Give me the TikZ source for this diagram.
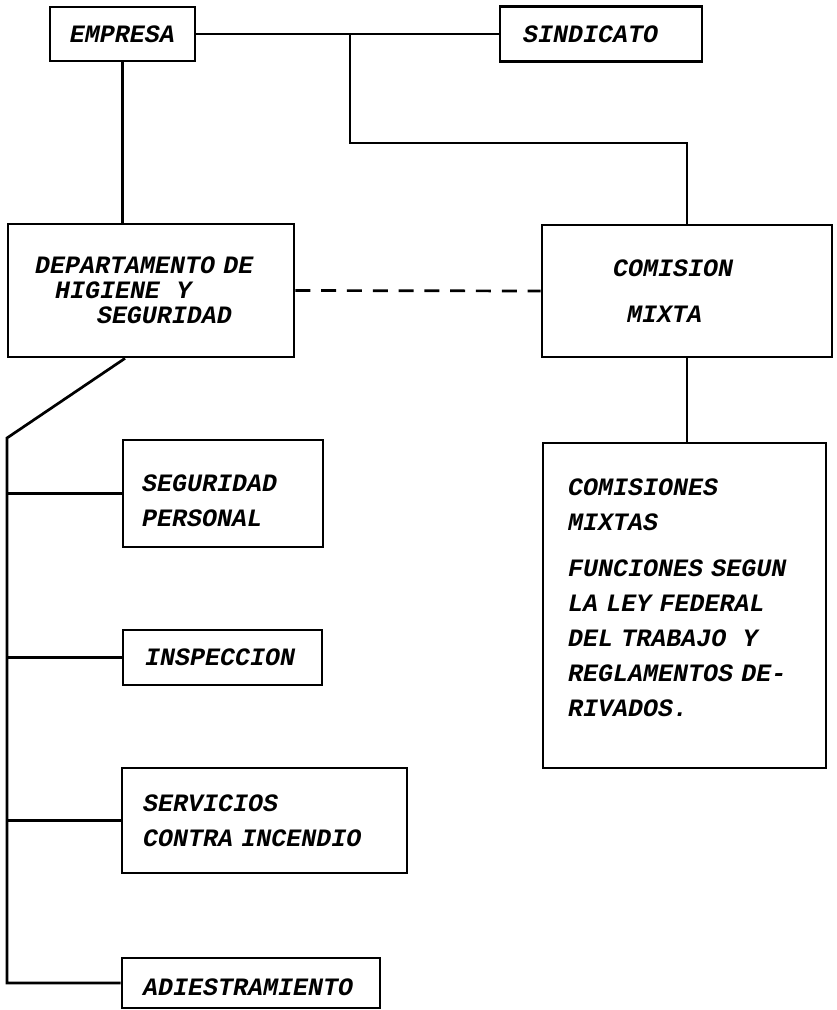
\documentclass[tikz,border=0pt]{standalone}
\usepackage{fontspec}
\newfontfamily\tw{Liberation Mono}
\newcommand\twf[1]{\tw\bfseries\itshape\fontsize{25}{#1}\selectfont}
\begin{document}
\begin{tikzpicture}[x=1pt,y=-1pt,line width=2.7pt,
  box/.style={draw,rectangle,inner ysep=0pt,font=\twf{35}},
  dashline/.style={dash pattern=on 15pt off 10.8pt}]
\useasboundingbox (0,0) rectangle (837,1010);
% boxes
\node[box,minimum width=145pt,minimum height=54pt,inner xsep=0pt] (empresa) at (122.5,34) {EMPRESA};
\node[box,minimum height=55pt,text width=156pt,inner xsep=23pt,align=left] (sindicato) at (601,34) {SINDICATO};
\node[box,minimum height=133pt,text width=232pt,inner xsep=27pt,align=left,font=\twf{25}] (dept) at (151,290.5)
  {DEPARTAMENTO DE\\\hspace*{20pt}HIGIENE\ \ Y\\\hspace*{62pt}SEGURIDAD};
\node[box,minimum height=132pt,text width=148pt,inner xsep=71pt,align=left,font=\twf{46}] (comision) at (687,291)
  {COMISION\\\hspace*{14pt}MIXTA};
\node[box,minimum height=325pt,text width=233pt,inner xsep=25pt,align=left] (comisiones) at (684.5,605.5)
  {COMISIONES\\MIXTAS\\[11pt]FUNCIONES SEGUN\\LA LEY FEDERAL\\DEL TRABAJO\ \ Y\\REGLAMENTOS DE-\\RIVADOS.\par\vspace{16pt}\hrule height 0pt};
\node[box,minimum height=107pt,text width=162pt,inner xsep=19pt,align=left] (seg) at (223,493.5)
  {\hrule height 0pt\vspace{14pt}SEGURIDAD\\PERSONAL};
\node[box,minimum height=55pt,text width=155pt,inner xsep=22pt,align=left] (insp) at (222.5,657.5) {INSPECCION};
\node[box,minimum height=105pt,text width=243pt,inner xsep=21pt,align=left] (serv) at (264.5,820.5) {SERVICIOS\\CONTRA INCENDIO};
\node[box,minimum height=50pt,text width=216pt,inner xsep=21pt,align=left] (adiest) at (251,983)
  {\hrule height 0pt\vspace{8pt}ADIESTRAMIENTO};
% connectors
\coordinate (j) at (350,34);
\coordinate (jb) at (350,143);
\coordinate (sp) at (7,438);
\draw (empresa.east) -- (sindicato.west);
\draw (j) -- (jb) -| (comision.north);
\draw (empresa.south) -- (empresa.south |- dept.north);
\draw[dashline] (dept.east) -- (comision.west);
\draw (comision.south) -- (comision.south |- comisiones.north);
\draw ([xshift=-26pt]dept.south) -- (sp) |- (adiest.west);
\draw (seg.west) -- (seg.west -| sp);
\draw (insp.west) -- (insp.west -| sp);
\draw (serv.west) -- (serv.west -| sp);
\end{tikzpicture}
\end{document}
